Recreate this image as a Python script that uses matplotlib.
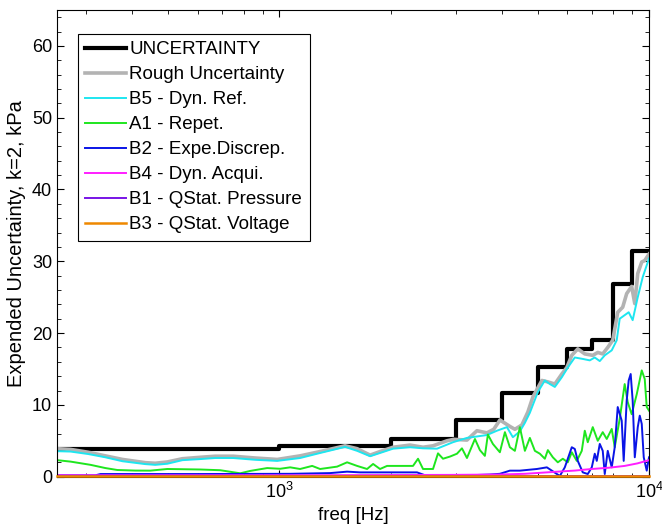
import matplotlib
matplotlib.use("Agg")
import matplotlib.pyplot as plt
from matplotlib.ticker import MultipleLocator, LogLocator, NullFormatter

plt.rcParams['font.family'] = ['Liberation Sans', 'DejaVu Sans']

# step envelope (UNCERTAINTY)
step_freq = [250, 1000, 2000, 3000, 4000, 5000, 6000, 7000, 8000, 9000, 10000]
step_val = [3.9, 4.3, 5.2, 7.9, 11.6, 15.3, 17.8, 19.1, 26.9, 31.4, 31.4]

# Rough Uncertainty
rough_freq = [250, 272, 304, 338, 376, 434, 461, 497, 546, 610, 670, 750, 860, 986,
              1137, 1288, 1505, 1622, 1759, 1871, 2029, 2256, 2446, 2603, 2840, 2960,
              3216, 3422, 3642, 3800, 3950, 4202, 4335, 4528, 4700, 4849, 5129, 5324,
              5561, 5808, 5991, 6180, 6415, 6701, 7043, 7266, 7495, 7732, 7976, 8228,
              8487, 8701, 8975, 9151, 9322, 9557, 9736, 10000]
rough_val = [3.9, 3.8, 3.4, 2.9, 2.4, 1.95, 1.87, 2.05, 2.5, 2.7, 2.85, 2.85, 2.6, 2.4,
             2.9, 3.5, 4.3, 3.9, 3.0, 3.5, 4.1, 4.4, 4.1, 4.3, 5.0, 5.2,
             5.1, 6.4, 6.1, 6.6, 7.9, 7.0, 6.6, 7.2, 9.0, 11.1, 13.4, 13.2,
             12.9, 14.3, 15.2, 16.9, 17.8, 17.1, 16.9, 17.3, 17.1, 18.0, 19.0, 22.9,
             23.6, 25.5, 26.5, 24.1, 28.3, 29.9, 30.1, 31.0]

# B5 - Dyn. Ref.
b5_freq = [250, 272, 304, 338, 376, 434, 461, 497, 546, 610, 670, 750, 860, 986,
           1137, 1288, 1505, 1622, 1759, 1871, 2029, 2256, 2446, 2669, 2948, 3216,
           3422, 3642, 3875, 4125, 4281, 4472, 4614, 4759, 5003, 5225, 5391, 5561,
           5808, 6028, 6297, 6618, 6913, 7131, 7357, 7589, 7927, 8177, 8331, 8593,
           8810, 9031, 9322, 9616, 10000]
b5_val = [3.55, 3.5, 3.15, 2.7, 2.15, 1.75, 1.65, 1.8, 2.3, 2.45, 2.6, 2.6, 2.35, 2.2,
          2.6, 3.3, 4.15, 3.6, 2.85, 3.3, 3.9, 4.1, 3.95, 3.9, 4.8, 5.4,
          5.6, 5.8, 6.4, 6.9, 5.5, 6.3, 7.5, 8.9, 11.8, 13.4, 12.9, 12.5,
          13.85, 15.2, 16.6, 16.4, 16.2, 16.6, 16.1, 16.9, 17.6, 19.0, 22.0, 22.5,
          22.9, 21.8, 25.0, 27.8, 30.4]

# A1 - Repet.
a1_freq = [250, 272, 308, 338, 364, 407, 447, 497, 610, 691, 783, 833, 926, 1004,
           1069, 1137, 1226, 1288, 1432, 1524, 1622, 1726, 1792, 1871, 1955, 2159,
           2298, 2371, 2446, 2603, 2685, 2770, 2893, 3022, 3117, 3216, 3380, 3486,
           3596, 3664, 3780, 3948, 4074, 4202, 4335, 4472, 4614, 4759, 4910, 5065,
           5225, 5324, 5492, 5665, 5844, 6028, 6180, 6376, 6577, 6701, 6827, 7043,
           7266, 7495, 7684, 7927, 8076, 8331, 8593, 8755, 8975, 9265, 9557, 9736,
           9858, 10000]
a1_val = [2.3, 2.1, 1.65, 1.2, 0.93, 0.85, 0.84, 1.07, 1.0, 0.9, 0.47, 0.8, 1.2, 1.1,
          1.3, 1.07, 1.5, 1.07, 1.4, 2.0, 1.5, 1.07, 1.77, 1.07, 1.5, 1.5,
          1.5, 2.5, 1.07, 1.07, 3.25, 2.5, 2.8, 3.2, 3.95, 2.6, 5.25, 3.7,
          2.9, 5.86, 4.56, 3.4, 6.2, 4.1, 3.6, 6.9, 3.6, 5.4, 3.6, 3.2,
          2.5, 3.7, 2.7, 2.0, 2.5, 2.0, 3.4, 2.2, 3.6, 6.4, 4.8, 6.9,
          5.0, 6.2, 5.25, 6.65, 4.1, 8.05, 12.9, 10.4, 8.7, 11.5, 14.8, 13.6,
          9.7, 9.2]

# B2 - Expe.Discrep.
b2_freq = [250, 318, 328, 610, 1069, 1371, 1524, 1652, 2356, 2476, 2719, 3079, 3710,
           3948, 4202, 4472, 4971, 5291, 5458, 5736, 5917, 6180, 6297, 6415, 6618,
           6827, 7000, 7131, 7221, 7357, 7495, 7589, 7732, 7927, 8076, 8228, 8435,
           8540, 8701, 8810, 8920, 9031, 9151, 9322, 9439, 9557, 9676, 9858, 10000]
b2_val = [0.2, 0.2, 0.37, 0.37, 0.4, 0.5, 0.7, 0.6, 0.6, 0.2, 0.1, 0.15, 0.3,
          0.4, 0.84, 0.84, 1.07, 1.3, 0.84, 0.1, 1.3, 4.1, 3.86, 2.2, 0.6,
          0.37, 1.3, 3.2, 2.2, 4.56, 3.6, 0.37, 3.6, 1.3, 4.1, 9.7, 7.8,
          2.2, 10.6, 13.4, 14.3, 10.6, 2.7, 6.9, 8.5, 7.35, 2.7, 0.84, 2.7]

# B4 - Dyn. Acqui.
b4_freq = [250, 1137, 2893, 3948, 4614, 5665, 6300, 7000, 7800, 8593, 9300, 10000]
b4_val = [0.2, 0.2, 0.25, 0.3, 0.4, 0.7, 0.85, 1.07, 1.25, 1.5, 1.85, 2.3]

# B1 - QStat. Pressure
b1_freq = [250, 10000]
b1_val = [0.12, 0.12]

# B3 - QStat. Voltage
b3_freq = [250, 10000]
b3_val = [0.05, 0.05]

fig = plt.figure(figsize=(6.62, 5.31), dpi=100)
ax = fig.add_axes([0.0861, 0.1023, 0.8943, 0.8789])

ax.step(step_freq, step_val, where='post', color='black', lw=3.0, label='UNCERTAINTY')
ax.plot(rough_freq, rough_val, color='#b3b3b3', lw=2.6, label='Rough Uncertainty')
ax.plot(b5_freq, b5_val, color='#1ee6f0', lw=1.4, label='B5 - Dyn. Ref.')
ax.plot(a1_freq, a1_val, color='#1ee61e', lw=1.4, label='A1 - Repet.')
ax.plot(b2_freq, b2_val, color='#0a14e6', lw=1.4, label='B2 - Expe.Discrep.')
ax.plot(b4_freq, b4_val, color='#ff1eff', lw=1.4, label='B4 - Dyn. Acqui.')
ax.plot(b1_freq, b1_val, color='#7814e6', lw=1.4, label='B1 - QStat. Pressure')
ax.plot(b3_freq, b3_val, color='#ee8800', lw=1.8, label='B3 - QStat. Voltage',
        clip_on=False, zorder=3)

ax.set_xscale('log')
ax.set_xlim(250, 10000)
ax.set_ylim(0, 65)
ax.xaxis.set_major_locator(LogLocator(base=10))
ax.xaxis.set_minor_locator(LogLocator(base=10, subs=range(2, 10)))
ax.xaxis.set_minor_formatter(NullFormatter())
ax.yaxis.set_major_locator(MultipleLocator(10))
ax.yaxis.set_minor_locator(MultipleLocator(2))
ax.tick_params(which='both', direction='in', top=True, right=True, labelsize=13)
ax.tick_params(which='major', length=5)
ax.tick_params(which='minor', length=3)

ax.set_xlabel('freq [Hz]', fontsize=13.5)
ax.set_ylabel('Expended Uncertainty, k=2, kPa', fontsize=14.5)

leg = ax.legend(loc='upper left', bbox_to_anchor=(0.035, 0.949), borderaxespad=0,
                fontsize=13.5, fancybox=False, framealpha=1, edgecolor='black',
                handlelength=2.2, handletextpad=0.15, labelspacing=0.42, borderpad=0.4)
leg.get_frame().set_linewidth(0.8)

fig.savefig('out.png', dpi=100)
